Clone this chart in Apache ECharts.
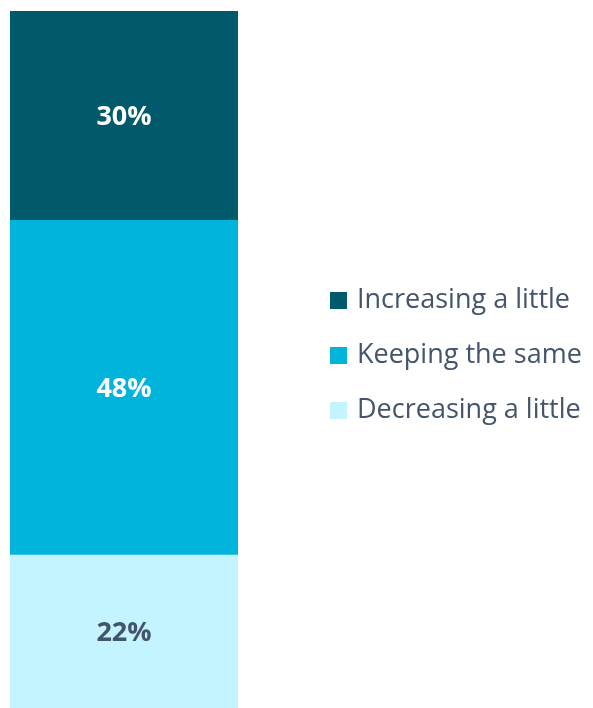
<!DOCTYPE html>
<html>
<head>
<meta charset="utf-8">
<style>
  html, body { margin: 0; padding: 0; background: #fff; }
  #chart { width: 593px; height: 708px; }
</style>
<script src="https://cdn.jsdelivr.net/npm/echarts@6/dist/echarts.min.js"></script>
</head>
<body>
<div id="chart"></div>
<script>
// data
const categories = ["All"];
const seriesNames = ["Decreasing a little", "Keeping the same", "Increasing a little"];
const decreasing = [22];
const keeping = [48];
const increasing = [30];
const colors = ["#C4F4FF", "#00B4DC", "#005A6C"];
const labelColors = ["#44546A", "#FFFFFF", "#FFFFFF"];

const chart = echarts.init(document.getElementById("chart"));
const values = [decreasing, keeping, increasing];

const option = {
  animation: false,
  grid: { left: 10, top: 11, width: 228, bottom: 0 },
  xAxis: { type: "category", data: categories, show: false },
  yAxis: { type: "value", min: 0, max: 100, show: false },
  legend: {
    orient: "vertical",
    left: 325,
    top: 282,
    itemWidth: 17,
    itemHeight: 17,
    itemGap: 28,
    icon: "rect",
    data: ["Increasing a little", "Keeping the same", "Decreasing a little"],
    textStyle: { fontFamily: "Open Sans", fontSize: 27, color: "#44546A", padding: [0, 0, 0, 5] }
  },
  series: seriesNames.map((name, i) => ({
    name: name,
    type: "bar",
    stack: "total",
    barWidth: "100%",
    itemStyle: { color: colors[i] },
    label: {
      show: true,
      position: "inside",
      offset: [0, 2],
      formatter: "{c}%",
      fontFamily: "Open Sans",
      fontWeight: "bold",
      fontSize: 27,
      color: labelColors[i]
    },
    data: values[i]
  }))
};

chart.setOption(option);
</script>
</body>
</html>
